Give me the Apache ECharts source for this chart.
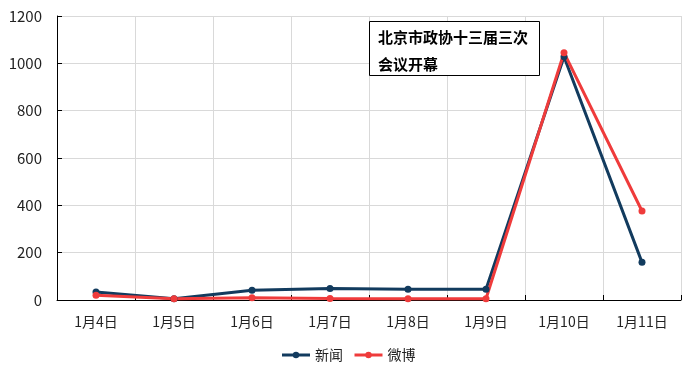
<!DOCTYPE html>
<html><head><meta charset="utf-8">
<script src="https://cdn.jsdelivr.net/npm/echarts@6/dist/echarts.min.js"></script>
<style>html,body{margin:0;padding:0;background:#fff}#c{width:696px;height:378px}</style>
</head><body><div id="c"></div>
<script>
var categories = ['1月4日','1月5日','1月6日','1月7日','1月8日','1月9日','1月10日','1月11日'];
var newsValues = [34, 5, 41, 49, 45, 45, 1028, 159];
var weiboValues = [20, 5, 10, 6, 5, 5, 1045, 376];
var yTicks = {min: 0, max: 1200, interval: 200};
var font = '"Noto Sans CJK SC", "Noto Sans", sans-serif';
var chart = echarts.init(document.getElementById('c'));
chart.setOption({
  animation: false,
  backgroundColor: '#fff',
  grid: {left: 57, right: 15, top: 16, bottom: 78, containLabel: false},
  xAxis: {
    type: 'category', data: categories, boundaryGap: true,
    axisLine: {lineStyle: {color: '#000', width: 1}},
    axisTick: {show: true, inside: true, length: 5, lineStyle: {color: '#000'}},
    axisLabel: {color: '#222', fontSize: 14, fontFamily: font, margin: 15},
    splitLine: {show: true, lineStyle: {color: '#d9d9d9', width: 1}}
  },
  yAxis: {
    type: 'value', min: yTicks.min, max: yTicks.max, interval: yTicks.interval,
    axisLine: {show: true, lineStyle: {color: '#000', width: 1}},
    axisTick: {show: true, inside: true, length: 5, lineStyle: {color: '#000'}},
    axisLabel: {color: '#222', fontSize: 15, fontFamily: font, margin: 15,
                formatter: function (v) { return String(v); }},
    splitLine: {show: true, lineStyle: {color: '#d9d9d9', width: 1}}
  },
  legend: {
    bottom: 11, left: 'center', itemWidth: 28, itemHeight: 8, itemGap: 10,
    textStyle: {color: '#222', fontSize: 14, fontFamily: font},
    lineStyle: {width: 3},
    data: ['新闻', '微博']
  },
  series: [
    {name: '新闻', type: 'line', data: newsValues, symbol: 'circle', symbolSize: 7,
     lineStyle: {color: '#123b5e', width: 3}, itemStyle: {color: '#123b5e'}},
    {name: '微博', type: 'line', data: weiboValues, symbol: 'circle', symbolSize: 7,
     lineStyle: {color: '#ef3b3b', width: 3}, itemStyle: {color: '#ef3b3b'}}
  ],
  graphic: [
    {type: 'rect', left: 369, top: 21, shape: {width: 170, height: 54},
     style: {fill: '#fff', stroke: '#000', lineWidth: 1}, z: 100},
    {type: 'text', left: 378, top: 24, z: 101,
     style: {text: '北京市政协十三届三次\n会议开幕', fill: '#000', fontSize: 15, fontWeight: 'bold',
             fontFamily: font, lineHeight: 27}}
  ]
});
</script></body></html>
